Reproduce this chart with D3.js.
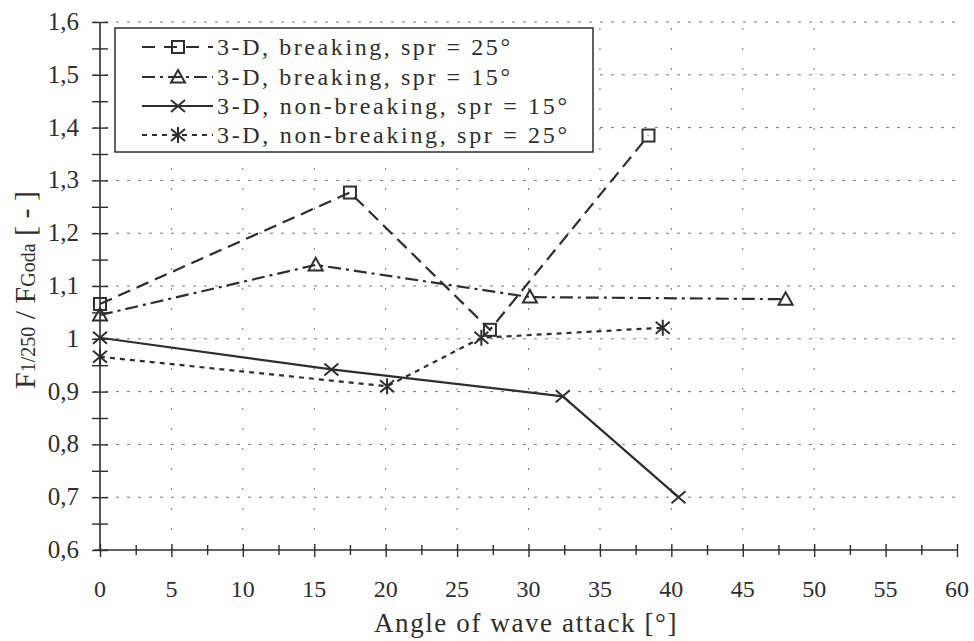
<!DOCTYPE html>
<html><head><meta charset="utf-8">
<script src="https://cdn.jsdelivr.net/npm/d3@7"></script>
<style>
html,body{margin:0;padding:0;background:#fff;}
svg text{font-family:"Liberation Serif","Times New Roman",serif;fill:#2e2e2e;}
</style></head>
<body><svg id="c" width="974" height="641"></svg>
<script>
// ---- data ----
const xTicks = [0,5,10,15,20,25,30,35,40,45,50,55,60];
const xTickLabels = ["0","5","10","15","20","25","30","35","40","45","50","55","60"];
const yTicks = [0.6,0.7,0.8,0.9,1.0,1.1,1.2,1.3,1.4,1.5,1.6];
const yTickLabels = ["0,6","0,7","0,8","0,9","1","1,1","1,2","1,3","1,4","1,5","1,6"];
const xGrid = [5,10,15,20,25,30,35,40,45,50];

const s1x = [0, 17.5, 27.3, 38.4];      // 3-D, breaking, spr = 25°
const s1y = [1.066, 1.277, 1.017, 1.385];
const s2x = [0, 15.1, 30.1, 48.0];      // 3-D, breaking, spr = 15°
const s2y = [1.045, 1.140, 1.079, 1.075];
const s3x = [0, 16.2, 32.4, 40.5];      // 3-D, non-breaking, spr = 15°
const s3y = [1.002, 0.942, 0.891, 0.700];
const s4x = [0, 20.1, 26.7, 39.4];      // 3-D, non-breaking, spr = 25°
const s4y = [0.966, 0.910, 1.002, 1.021];
const seriesNames = ["3-D, breaking, spr = 25°","3-D, breaking, spr = 15°","3-D, non-breaking, spr = 15°","3-D, non-breaking, spr = 25°"];

// ---- chart ----
const ink = "#2e2e2e";
const svg = d3.select("#c");
const x = d3.scaleLinear().domain([0,60]).range([100,957]);
const y = d3.scaleLinear().domain([0.6,1.6]).range([550,22]);

// grid
const g = svg.append("g");
g.selectAll("line.h").data(yTicks.slice(1)).join("line")
  .attr("x1", x(0)-6).attr("x2", x(60)).attr("y1", d=>y(d)).attr("y2", d=>y(d))
  .attr("stroke","#777").attr("stroke-width",1).attr("stroke-dasharray","3,8");
g.selectAll("line.v").data(xGrid).join("line")
  .attr("x1", d=>x(d)).attr("x2", d=>x(d)).attr("y1", y(0.6)).attr("y2", y(1.6))
  .attr("stroke","#777").attr("stroke-width",1).attr("stroke-dasharray","2,18");

// axes
const yAxis = d3.axisLeft(y).tickValues(d3.range(0.6,1.6001,0.05)).tickSize(8).tickFormat("");
const ya = svg.append("g").attr("transform",`translate(${x(0)},0)`).call(yAxis);
ya.select(".domain").attr("stroke",ink).attr("stroke-width",1.6).attr("d",`M0,${y(0.6)}V${y(1.6)}`);
ya.selectAll(".tick line").attr("x1",8).attr("x2",-8).attr("stroke",ink).attr("stroke-width",1.4);

const xAxis = d3.axisBottom(x).tickValues(d3.range(0,60.01,2.5)).tickSize(6).tickFormat("");
const xa = svg.append("g").attr("transform",`translate(0,${y(0.6)})`).call(xAxis);
xa.select(".domain").attr("stroke",ink).attr("stroke-width",1.6).attr("d",`M${x(0)-6},0H${x(60)}`);
xa.selectAll(".tick line").attr("y1",d=> d%5===0?-6:-5).attr("y2",d=> d%5===0?7:5).attr("stroke",ink).attr("stroke-width",1.4);

// tick labels
svg.append("g").selectAll("text").data(xTicks).join("text")
  .attr("x", d=>x(d)).attr("y", 597).attr("text-anchor","middle")
  .attr("font-size",24).text((d,i)=>xTickLabels[i]);
svg.append("g").selectAll("text").data(yTicks).join("text")
  .attr("x", 79).attr("y", d=>y(d)+8).attr("text-anchor","end")
  .attr("font-size",25).text((d,i)=>yTickLabels[i]);

// titles
svg.append("text").attr("x",526).attr("y",632).attr("text-anchor","middle")
  .attr("font-size",27).attr("letter-spacing",1.6).text("Angle of wave attack [°]");
const yt = svg.append("text").attr("transform","translate(35,290) rotate(-90)")
  .attr("text-anchor","middle").attr("font-size",30);
yt.append("tspan").text("F");
yt.append("tspan").attr("font-size",20).text("1/250");
yt.append("tspan").text(" / F");
yt.append("tspan").attr("font-size",20).text("Goda");
yt.append("tspan").text(" [ - ]");

// series
const styles = [
  {xs:s1x, ys:s1y, dash:"13,7", marker:"square"},
  {xs:s2x, ys:s2y, dash:"13,5,3,5", marker:"triangle"},
  {xs:s3x, ys:s3y, dash:null, marker:"x"},
  {xs:s4x, ys:s4y, dash:"5,5", marker:"star"}
];
function drawMarker(sel, type, cx, cy){
  const m = sel.append("g").attr("transform",`translate(${cx},${cy})`)
    .attr("fill","none").attr("stroke",ink).attr("stroke-width",2);
  if(type==="square") m.append("rect").attr("x",-6).attr("y",-6).attr("width",12).attr("height",12);
  if(type==="triangle") m.append("path").attr("d","M0,-7L7,5.5H-7Z");
  if(type==="x") m.append("path").attr("d","M-7,-6L7,6M-7,6L7,-6");
  if(type==="star") m.append("path").attr("d","M-7,-6L7,6M-7,6L7,-6M0,-8V8");
}
const line = d3.line().x(d=>x(d[0])).y(d=>y(d[1]));
styles.forEach(s=>{
  const pts = s.xs.map((v,i)=>[v,s.ys[i]]);
  svg.append("path").datum(pts).attr("d",line).attr("fill","none")
    .attr("stroke",ink).attr("stroke-width",2.2).attr("stroke-dasharray",s.dash);
  pts.forEach(p=>drawMarker(svg,s.marker,x(p[0]),y(p[1])));
});

// legend
const lg = svg.append("g");
lg.append("rect").attr("x",115).attr("y",28).attr("width",478).attr("height",124)
  .attr("fill","#fff").attr("stroke",ink).attr("stroke-width",1.5);
const rowY = [47,77,106,135];
const textLens = [293, 293, 350, 350];
seriesNames.forEach((n,i)=>{
  const s = styles[i];
  lg.append("line").attr("x1",142).attr("x2",213).attr("y1",rowY[i]).attr("y2",rowY[i])
    .attr("stroke",ink).attr("stroke-width",2.2).attr("stroke-dasharray", s.dash ? (i===0?"13,9":s.dash):null);
  drawMarker(lg, s.marker, 178, rowY[i]);
  lg.append("text").attr("x",217).attr("y",rowY[i]+8).attr("font-size",24)
    .attr("textLength",textLens[i]).attr("lengthAdjust","spacing").text(n);
});
</script></body></html>
